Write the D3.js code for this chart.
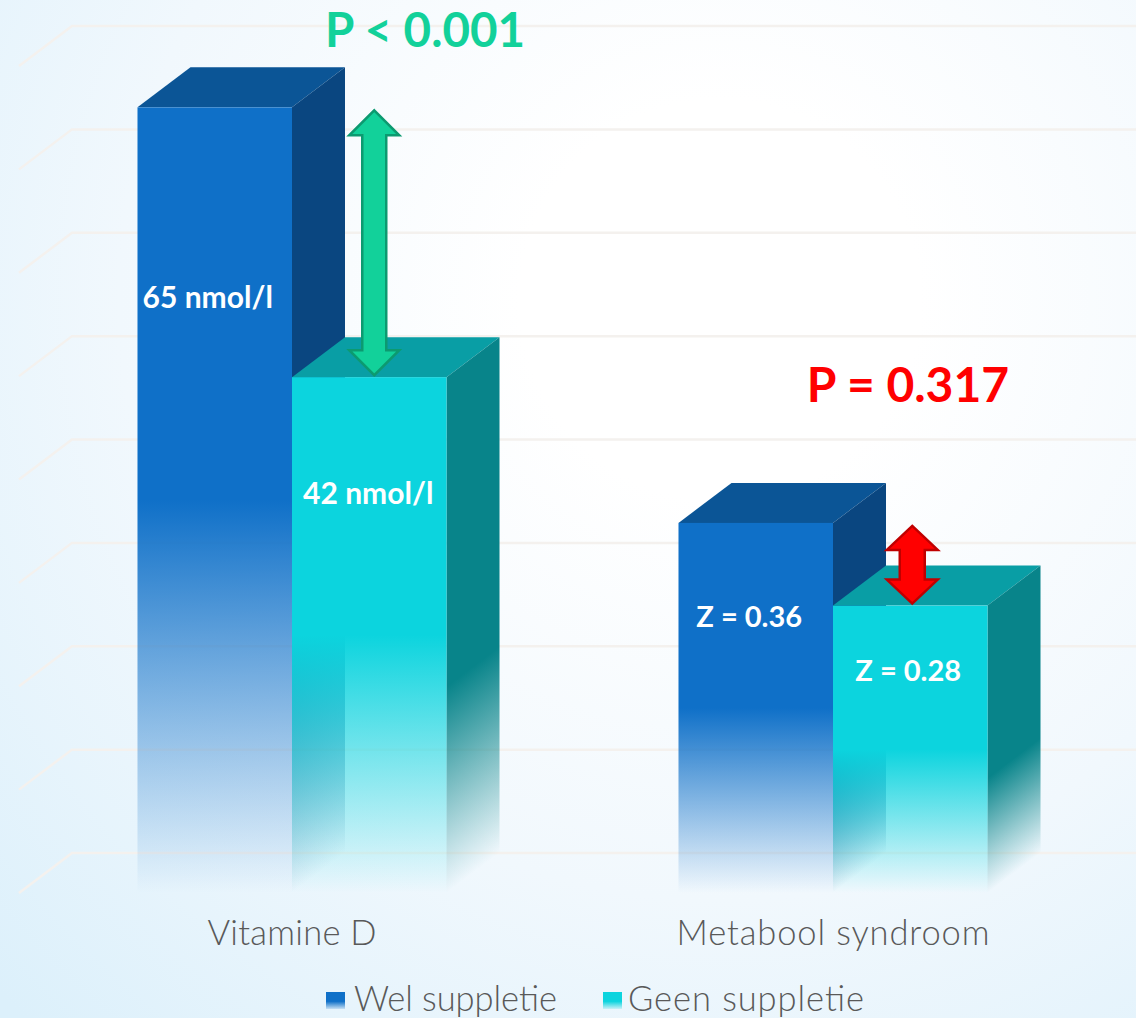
<!DOCTYPE html>
<html>
<head>
<meta charset="utf-8">
<script src="https://cdn.jsdelivr.net/npm/d3@7"></script>
<style>
  html, body { margin: 0; padding: 0; background: #fff; overflow: hidden; }
  text { font-family: Lato, "Open Sans", sans-serif; }
</style>
</head>
<body>
<div id="wrapper"></div>
<script>
// plotted heights are in gridline units (0-8 wall), the printed numbers are separate
const categories = ["Vitamine D", "Metabool syndroom"];
const seriesNames = ["Wel suppletie", "Geen suppletie"];
const welValues = [7.6, 3.58];
const geenValues = [4.99, 2.78];
const welLabels = ["65 nmol/l", "Z = 0.36"];
const geenLabels = ["42 nmol/l", "Z = 0.28"];
const pLabels = ["P < 0.001", "P = 0.317"];
const gridTicks = [0, 1, 2, 3, 4, 5, 6, 7, 8];

const width = 1136, height = 1018;
const depth = {x: 53, y: 40};

const palette = {
  "Wel suppletie": {front: "#0f70c8", side: "#0a4680", top: "#0b5596"},
  "Geen suppletie": {front: "#0cd4de", side: "#08848a", top: "#099ea5"}
};

const y = d3.scaleLinear().domain([0, 8]).range([853, 26]);
const x0 = d3.scaleBand().domain(categories).range([21.5, 1103.5])
  .paddingInner(0.4288).paddingOuter(0.2144);
const x1 = d3.scaleBand().domain(seriesNames).range([0, x0.bandwidth()]);

const svg = d3.select("#wrapper").append("svg")
  .attr("width", width)
  .attr("height", height)
  .style("display", "block");

const defs = svg.append("defs");

const bg = defs.append("radialGradient")
  .attr("id", "bg")
  .attr("gradientUnits", "userSpaceOnUse")
  .attr("cx", 720).attr("cy", 300).attr("r", 1000);
bg.append("stop").attr("offset", 0.2).attr("stop-color", "#ffffff");
bg.append("stop").attr("offset", 0.6).attr("stop-color", "#f1f8fd");
bg.append("stop").attr("offset", 1).attr("stop-color", "#dcf0fb");

// faces stay solid for the top part, then fade out linearly
function fadeGradient(id, color, solidUntil) {
  const g = defs.append("linearGradient").attr("id", id)
    .attr("x1", 0).attr("y1", 0).attr("x2", 0).attr("y2", 1);
  g.append("stop").attr("offset", 0).attr("stop-color", color).attr("stop-opacity", 1);
  g.append("stop").attr("offset", solidUntil).attr("stop-color", color).attr("stop-opacity", 1);
  g.append("stop").attr("offset", 1).attr("stop-color", color).attr("stop-opacity", 0);
}
seriesNames.forEach((s, i) => {
  fadeGradient("front" + i, palette[s].front, 0.5);
  fadeGradient("side" + i, palette[s].side, 0.6);
});

svg.append("rect")
  .attr("width", width)
  .attr("height", height)
  .attr("fill", "url(#bg)");

// back wall and side wall lines
const grid = svg.append("g")
  .attr("fill", "none")
  .attr("stroke", "#f4f1ee")
  .attr("stroke-width", 2.5);
grid.selectAll("path")
  .data(gridTicks)
  .enter()
  .append("path")
  .attr("d", d => d3.line()([[width, y(d)], [72, y(d)], [72 - depth.x, y(d) + depth.y]]));

const bars = [];
categories.forEach((c, i) => {
  bars.push({cat: c, name: seriesNames[0], idx: 0, value: welValues[i], label: welLabels[i]});
  bars.push({cat: c, name: seriesNames[1], idx: 1, value: geenValues[i], label: geenLabels[i]});
});
bars.forEach(d => {
  d.x = x0(d.cat) + x1(d.name);
  d.w = x1.bandwidth();
  d.top = y(d.value) + depth.y;
  d.h = y(0) + depth.y - d.top;
});

const bar = svg.selectAll("g.bar")
  .data(bars)
  .enter()
  .append("g")
  .attr("class", "bar");

bar.append("path")
  .attr("fill", d => palette[d.name].top)
  .attr("d", d => d3.line()([
    [d.x, d.top],
    [d.x + depth.x, d.top - depth.y],
    [d.x + d.w + depth.x, d.top - depth.y],
    [d.x + d.w, d.top]
  ]) + "Z");

// sheared rect so the fade follows the side face
bar.append("rect")
  .attr("width", depth.x)
  .attr("height", d => d.h)
  .attr("fill", d => `url(#side${d.idx})`)
  .attr("transform", d => `matrix(1,${-depth.y / depth.x},0,1,${d.x + d.w},${d.top})`);

bar.append("rect")
  .attr("x", d => d.x)
  .attr("y", d => d.top)
  .attr("width", d => d.w)
  .attr("height", d => d.h)
  .attr("fill", d => `url(#front${d.idx})`);

// double arrows between the two front tops
const arrowStyles = [
  {fill: "#12d19a", stroke: "#0c9a70", head: 25, shaft: 12, headH: 25, dx: 5},
  {fill: "#ff0000", stroke: "#c00000", head: 25.5, shaft: 12.5, headH: 24, dx: 2}
];
const arrows = categories.map((c, i) => ({
  cx: x0(c) + x1(seriesNames[1]) + x1.bandwidth() / 2 + arrowStyles[i].dx,
  top: y(welValues[i]) + depth.y + 3,
  bottom: y(geenValues[i]) + depth.y - 2,
  ...arrowStyles[i]
}));
svg.selectAll("path.arrow")
  .data(arrows)
  .enter()
  .append("path")
  .attr("class", "arrow")
  .attr("fill", d => d.fill)
  .attr("stroke", d => d.stroke)
  .attr("stroke-width", 2.5)
  .attr("d", d => d3.line()([
    [d.cx, d.top],
    [d.cx + d.head, d.top + d.headH],
    [d.cx + d.shaft, d.top + d.headH],
    [d.cx + d.shaft, d.bottom - d.headH],
    [d.cx + d.head, d.bottom - d.headH],
    [d.cx, d.bottom],
    [d.cx - d.head, d.bottom - d.headH],
    [d.cx - d.shaft, d.bottom - d.headH],
    [d.cx - d.shaft, d.top + d.headH],
    [d.cx - d.head, d.top + d.headH]
  ]) + "Z");

// value labels, hand placed on each bar like in the slide
const labelDx = [-7, -1, -6.5, -2];
const labelY = [308, 504, 627, 681];
const labelSize = [30, 30, 29, 29];
svg.selectAll("text.value")
  .data(bars)
  .enter()
  .append("text")
  .attr("class", "value")
  .attr("x", (d, i) => d.x + d.w / 2 + labelDx[i])
  .attr("y", (d, i) => labelY[i])
  .attr("text-anchor", "middle")
  .attr("fill", "#fff")
  .attr("font-weight", 700)
  .attr("font-size", (d, i) => labelSize[i])
  .text(d => d.label);

const pY = [47, 402];
const pX = [425, 908];
const pSize = [47.5, 48];
svg.selectAll("text.p")
  .data(pLabels)
  .enter()
  .append("text")
  .attr("class", "p")
  .attr("x", (d, i) => pX[i])
  .attr("y", (d, i) => pY[i])
  .attr("text-anchor", "middle")
  .attr("fill", (d, i) => arrowStyles[i].fill)
  .attr("font-weight", 700)
  .attr("font-size", (d, i) => pSize[i])
  .text(d => d);

// category axis, no line or ticks
const catWidths = [169, 313];
const xAxis = svg.append("g")
  .attr("transform", "translate(0,945)")
  .call(d3.axisBottom(x0).tickSize(0).tickPadding(0));
xAxis.select(".domain").remove();
xAxis.selectAll("text")
  .attr("fill", "#595959")
  .attr("font-size", 34.5)
  .attr("font-weight", 300)
  .attr("dy", 0)
  .attr("textLength", (d, i) => catWidths[i])
  .style("font-family", "Lato, sans-serif");

// legend
const legendX = [326, 603];
const legendTextX = [28, 25];
const legendWidths = [203, 236];
const legend = svg.selectAll("g.legend")
  .data(seriesNames)
  .enter()
  .append("g")
  .attr("class", "legend")
  .attr("transform", (d, i) => `translate(${legendX[i]},992)`);
const swatchFade = seriesNames.map((s, i) => {
  const g = defs.append("linearGradient").attr("id", "swatch" + i)
    .attr("x1", 0).attr("y1", 0).attr("x2", 0).attr("y2", 1);
  g.append("stop").attr("offset", 0.55).attr("stop-color", palette[s].front);
  g.append("stop").attr("offset", 1).attr("stop-color", palette[s].front).attr("stop-opacity", 0.15);
  return "url(#swatch" + i + ")";
});
legend.append("rect")
  .attr("width", 19)
  .attr("height", 17)
  .attr("fill", (d, i) => swatchFade[i]);
legend.append("text")
  .attr("x", (d, i) => legendTextX[i])
  .attr("y", 19)
  .attr("fill", "#595959")
  .attr("font-size", 34.5)
  .attr("font-weight", 300)
  .attr("textLength", (d, i) => legendWidths[i])
  .text(d => d);
</script>
</body>
</html>
